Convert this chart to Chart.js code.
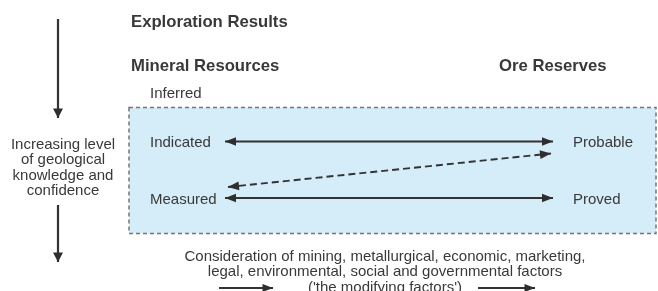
<!DOCTYPE html>
<html>
<head>
<meta charset="utf-8">
<script src="https://cdn.jsdelivr.net/npm/chart.js@4/dist/chart.umd.min.js"></script>
<style>
  html, body { margin: 0; padding: 0; background: #fff; }
  #wrap { width: 658px; height: 291px; }
</style>
</head>
<body>
<div id="wrap"><canvas id="c" width="658" height="291"></canvas></div>
<script>
// --- diagram content ---
const headings = ['Exploration Results', 'Mineral Resources', 'Ore Reserves'];
const resourceCats = ['Inferred', 'Indicated', 'Measured'];
const reserveCats = ['Probable', 'Proved'];
const sideText = ['Increasing level', 'of geological', 'knowledge and', 'confidence'];
const footText = [
  'Consideration of mining, metallurgical, economic, marketing,',
  'legal, environmental, social and governmental factors',
  "('the modifying factors')"
];
// resource class -> reserve class, line style
const links = [
  ['Indicated', 'Probable', 'solid'],
  ['Measured', 'Probable', 'dashed'],
  ['Measured', 'Proved', 'solid']
];

// --- layout (diagram units = scale units) ---
const W = 658, H = 291;
const FONT = '"Liberation Sans", Arial, Helvetica, sans-serif';
const INK = '#393939';
const rowY = { Inferred: 92.5, Indicated: 141.5, Measured: 198, Probable: 141.5, Proved: 198 };
const linkX = [225, 553];
const box = { x0: 129, y0: 107.5, x1: 656, y1: 233.5 };

function linkPoints(l) {
  if (l[2] === 'dashed') return [{ x: linkX[0] + 3, y: rowY[l[0]] - 11 }, { x: linkX[1] - 2, y: rowY[l[1]] + 12 }];
  return [{ x: linkX[0], y: rowY[l[0]] }, { x: linkX[1], y: rowY[l[1]] }];
}

const datasets = links.map(l => ({
  data: linkPoints(l), showLine: true, borderColor: '#333', borderWidth: l[2] === 'dashed' ? 1.9 : 1.9,
  borderDash: l[2] === 'dashed' ? [7, 4] : [], pointRadius: 0, heads: 'both', headLen: 11, headHalf: 4.3
}));
// confidence arrows on the left and modifying-factor arrows at the bottom
datasets.push({ data: [{ x: 58, y: 19 }, { x: 58, y: 118 }], heads: 'end', headLen: 9.5, headHalf: 5 });
datasets.push({ data: [{ x: 58, y: 205 }, { x: 58, y: 262 }], heads: 'end', headLen: 9.5, headHalf: 5 });
datasets.push({ data: [{ x: 219, y: 288 }, { x: 273, y: 288 }], heads: 'end', headLen: 10.5, headHalf: 4 });
datasets.push({ data: [{ x: 478, y: 288 }, { x: 535, y: 288 }], heads: 'end', headLen: 10.5, headHalf: 4 });
datasets.slice(links.length).forEach(d => Object.assign(d, { showLine: true, borderColor: '#333', borderWidth: 2.2, pointRadius: 0 }));

function head(ctx, tip, from, len, half) {
  const a = Math.atan2(tip.y - from.y, tip.x - from.x);
  ctx.save();
  ctx.translate(tip.x, tip.y); ctx.rotate(a);
  ctx.beginPath(); ctx.moveTo(0, 0); ctx.lineTo(-len, -half); ctx.lineTo(-len, half); ctx.closePath();
  ctx.fillStyle = '#2e2e2e'; ctx.fill();
  ctx.restore();
}

const boxPlugin = {
  id: 'box',
  beforeDatasetsDraw(chart) {
    const { ctx, scales: { x, y } } = chart;
    const px0 = x.getPixelForValue(box.x0), px1 = x.getPixelForValue(box.x1);
    const py0 = y.getPixelForValue(box.y0), py1 = y.getPixelForValue(box.y1);
    ctx.save();
    ctx.fillStyle = '#d5ecf9';
    ctx.fillRect(px0, py0, px1 - px0, py1 - py0);
    ctx.setLineDash([4, 3]); ctx.lineWidth = 1.5; ctx.strokeStyle = '#757575';
    ctx.strokeRect(px0, py0, px1 - px0, py1 - py0);
    ctx.restore();
  }
};

const headPlugin = {
  id: 'heads',
  afterDatasetsDraw(chart) {
    const ctx = chart.ctx;
    chart.data.datasets.forEach((ds, i) => {
      const pts = chart.getDatasetMeta(i).data;
      const a = pts[0], b = pts[pts.length - 1];
      head(ctx, b, a, ds.headLen, ds.headHalf);
      if (ds.heads === 'both') head(ctx, a, b, ds.headLen, ds.headHalf);
    });
  }
};

const textPlugin = {
  id: 'texts',
  afterDraw(chart) {
    const { ctx, scales: { x, y } } = chart;
    const put = (s, vx, vy, font, align) => {
      ctx.font = font; ctx.textAlign = align || 'left';
      ctx.fillText(s, x.getPixelForValue(vx), y.getPixelForValue(vy));
    };
    ctx.save();
    ctx.fillStyle = INK; ctx.textBaseline = 'alphabetic';
    const bold = 'bold 16.7px ' + FONT, reg = '15px ' + FONT;
    put(headings[0], 131, 26.5, bold);
    put(headings[1], 131, 70.5, bold);
    put(headings[2], 499, 70.5, bold);
    resourceCats.forEach(c => put(c, 150, rowY[c] + 5.5, reg));
    reserveCats.forEach(c => put(c, 573, rowY[c] + 5.5, reg));
    sideText.forEach((s, i) => put(s, 63, 148.5 + i * 15.5, reg, 'center'));
    footText.forEach((s, i) => put(s, 385, 260.5 + i * 15.5, reg, 'center'));
    ctx.restore();
  }
};

new Chart(document.getElementById('c'), {
  type: 'scatter',
  data: { datasets },
  options: {
    responsive: false, animation: false, devicePixelRatio: 1,
    layout: { padding: 0 },
    plugins: { legend: { display: false }, tooltip: { enabled: false } },
    scales: {
      x: { type: 'linear', min: 0, max: W, display: false },
      y: { type: 'linear', min: 0, max: H, reverse: true, display: false }
    },
    elements: { line: { tension: 0 } }
  },
  plugins: [boxPlugin, headPlugin, textPlugin]
});
</script>
</body>
</html>
